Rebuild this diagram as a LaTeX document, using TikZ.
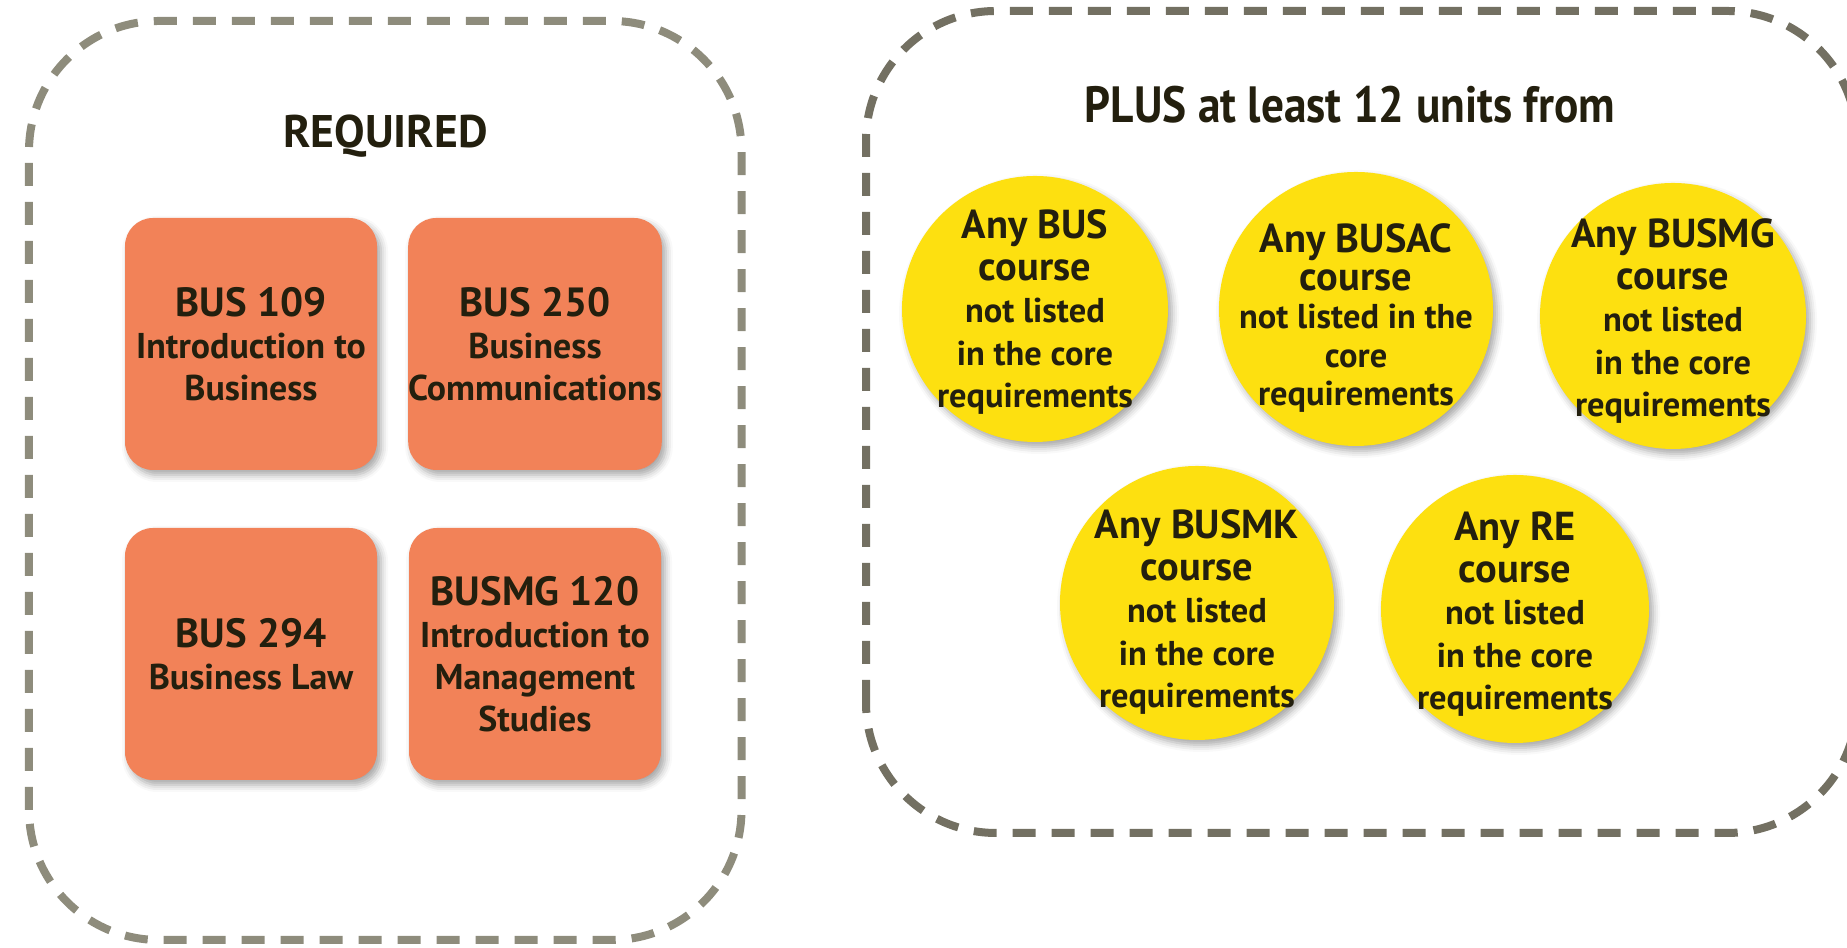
\documentclass[tikz,border=0pt]{standalone}
\usepackage{fontspec}
\setmainfont{PT Sans}
\newfontfamily\titlefont[FakeStretch=0.89]{PT Sans}
\usetikzlibrary{shadows.blur}
\definecolor{reqgray}{RGB}{142,140,124}
\definecolor{plusgray}{RGB}{115,112,98}
\definecolor{coursebox}{RGB}{242,130,88}
\definecolor{anycircle}{RGB}{253,224,16}
\definecolor{inkdark}{RGB}{35,31,14}
\newcommand\boxhead[1]{{\fontsize{11.6}{11.9}\selectfont #1}}
\newcommand\circhead[1]{{\fontsize{11.5}{12}\selectfont #1}}
\tikzset{
  frame/.style={line width=0.08cm,line cap=butt,dash pattern=on 0.23cm off 0.16cm,rounded corners=1.3cm},
  softshadow/.style={blur shadow={shadow xshift=0.04cm,shadow yshift=-0.05cm,shadow blur radius=0.07cm,shadow opacity=35}},
  course/.style={rectangle,rounded corners=0.28cm,fill=coursebox,softshadow,minimum width=2.52cm,minimum height=2.52cm,inner sep=0pt,align=center,text=inkdark,font=\bfseries\fontsize{10.2}{11.9}\selectfont},
  anycourse/.style={circle,fill=anycircle,softshadow,inner sep=0pt},
  anytext/.style={inner sep=0pt,align=center,text=inkdark},
  heading/.style={anchor=base,text=inkdark}
}
\begin{document}
\begin{tikzpicture}[line join=round,line cap=round]
\path[use as bounding box,clip] (0,0) rectangle (18.47,9.48);
% required courses
\draw[frame,draw=reqgray] (0.29,0.08) rectangle (7.415,9.27);
\node[heading,font=\bfseries\fontsize{13}{13}\selectfont] (required) at (3.855,8.00) {REQUIRED};
\node[course] (bus109) at (2.51,6.04) {\boxhead{BUS 109}\\Introduction to\\Business};
\node[course] (bus250) at (5.35,6.04) {\boxhead{BUS 250}\\Business\\Communications};
\node[course] (bus294) at (2.51,2.94) {\boxhead{BUS 294}\\Business Law};
\node[course] (busmg120) at (5.35,2.94) {\boxhead{BUSMG 120}\\Introduction to\\Management\\Studies};
% electives
\draw[frame,draw=plusgray] (8.66,1.15) rectangle (18.57,9.37);
\node[heading,font=\titlefont\bfseries\fontsize{14.5}{14.5}\selectfont] (plus) at (13.50,8.25) {PLUS at least 12 units from};
\foreach \cx/\cy/\r/\dy/\lead/\code/\mid in {10.35/6.39/1.33/-0.03/12/BUS/not listed\\in the core,
  13.56/6.39/1.37/-0.09/10.9/BUSAC/not listed in the\\core,
  16.73/6.32/1.33/-0.05/12/BUSMG/not listed\\in the core,
  11.97/3.45/1.37/-0.09/12/BUSMK/not listed\\in the core,
  15.15/3.39/1.34/-0.05/12/RE/not listed\\in the core}{
  \node[anycourse,minimum size={2*\r cm}] (any\code) at (\cx,\cy) {};
  \node[anytext,font=\bfseries\fontsize{9.8}{\lead}\selectfont,yshift=\dy cm] (any\code text) at (any\code) {\circhead{Any \code}\\\circhead{course}\\\mid\\requirements};
}
\end{tikzpicture}
\end{document}
